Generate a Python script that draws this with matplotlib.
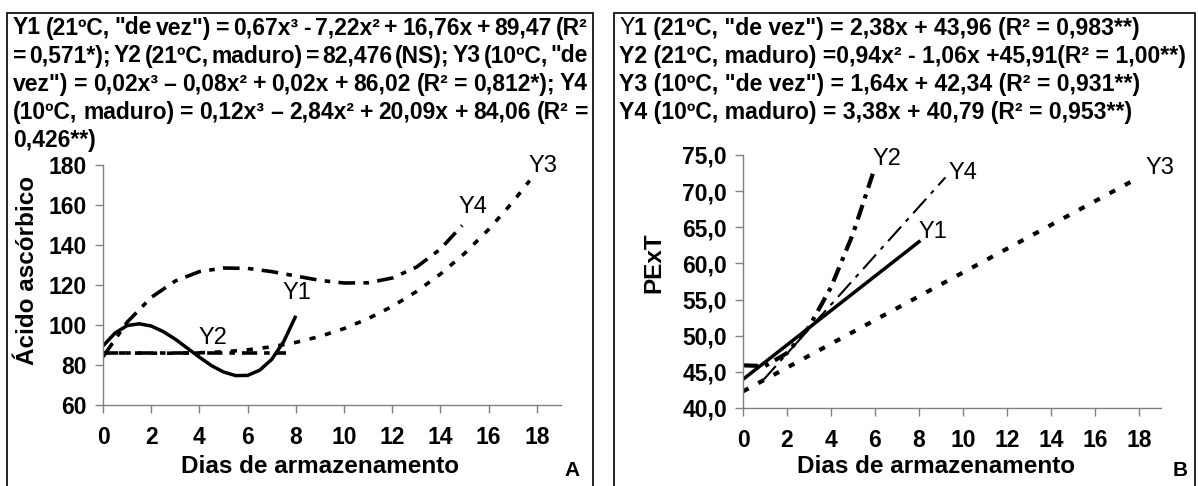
import matplotlib
matplotlib.use('Agg')
import matplotlib.pyplot as plt
from matplotlib.patches import Rectangle
from matplotlib.ticker import FixedLocator

# ---------------- data ----------------
# Panel A - Acido ascorbico
a_y1_x = [0, 0.5, 1, 1.5, 2, 2.5, 3, 3.5, 4, 4.5, 5, 5.5, 6, 6.5, 7, 7.5, 8]
a_y1 = [89.5, 96.0, 99.7, 100.6, 99.5, 96.7, 92.9, 88.4, 83.9, 79.7, 76.5,
        74.7, 74.8, 77.4, 82.8, 91.8, 104.6]
a_y2_x = [0, 7.6]
a_y2 = [86.0, 86.0]
a_y3_x = [0, 1, 2, 3, 4, 5, 6, 7, 8, 9, 10, 11, 12, 13, 14, 15, 16, 17, 17.7]
a_y3 = [86.0, 86.0, 85.9, 85.9, 86.1, 86.6, 87.6, 89.1, 91.3, 94.3, 98.2,
        103.2, 109.3, 116.7, 125.5, 135.8, 147.8, 161.5, 172.2]
a_y4_x = [0, 1, 2, 3, 4, 5, 6, 7, 8, 9, 10, 11, 12, 13, 14, 14.9]
a_y4 = [84.1, 101.4, 113.8, 122.0, 126.7, 128.5, 128.3, 126.7, 124.5, 122.3,
        121.0, 121.1, 123.5, 128.9, 138.0, 149.8]
a_xticks = [0, 2, 4, 6, 8, 10, 12, 14, 16, 18]
a_yticks = [60, 80, 100, 120, 140, 160, 180]
a_ytick_labels = ['60', '80', '100', '120', '140', '160', '180']

# Panel B - PExT
b_y1_x = [0, 8]
b_y1 = [43.96, 63.0]
b_y2_x = [0, 1, 2, 3, 4, 5, 5.9]
b_y2 = [45.9, 45.8, 47.6, 51.2, 56.7, 64.1, 72.4]
b_y3_x = [0, 18]
b_y3 = [42.3, 71.9]
b_y4_x = [0.9, 9.2]
b_y4 = [43.8, 71.9]
b_xticks = [0, 2, 4, 6, 8, 10, 12, 14, 16, 18]
b_yticks = [40, 45, 50, 55, 60, 65, 70, 75]
b_ytick_labels = ['40,0', '45,0', '50,0', '55,0', '60,0', '65,0', '70,0', '75,0']

header_a = [
    'Y1 (21ºC, "de vez") = 0,67x³ - 7,22x² + 16,76x + 89,47 (R²',
    '= 0,571*); Y2 (21ºC, maduro) = 82,476 (NS); Y3 (10ºC, "de',
    'vez") = 0,02x³ – 0,08x² + 0,02x + 86,02 (R² = 0,812*); Y4',
    '(10ºC, maduro) = 0,12x³ – 2,84x² + 20,09x + 84,06 (R² =',
    '0,426**)',
]
header_b = [
    'Y1 (21ºC, "de vez") = 2,38x + 43,96 (R² = 0,983**)',
    'Y2 (21ºC, maduro) =0,94x² - 1,06x +45,91(R² = 1,00**)',
    'Y3 (10ºC, "de vez") = 1,64x + 42,34 (R² = 0,931**)',
    'Y4 (10ºC, maduro) = 3,38x + 40,79 (R² = 0,953**)',
]

# ---------------- figure ----------------
W, H = 1198, 486
plt.rcParams['font.family'] = ['Liberation Sans', 'DejaVu Sans']
plt.rcParams['lines.scale_dashes'] = False
fig = plt.figure(figsize=(W / 100, H / 100), dpi=100)
renderer = fig.canvas.get_renderer()

TICK_FS = 16.5
LABEL_FS = 17.5
CURVE_FS = 17


def fx(px):
    return px / W


def fy(py):
    return 1 - py / H


def text_w(s, fs, weight):
    t = fig.text(0, 0, s, fontsize=fs, fontweight=weight)
    w = t.get_window_extent(renderer).width
    t.remove()
    return w


# frames
for (x0, x1) in [(7, 593), (614, 1195)]:
    fig.patches.append(Rectangle((fx(x0), fy(492)), (x1 - x0) / W, (492 - 13) / H,
                                 transform=fig.transFigure, fill=False,
                                 ec='black', lw=1.2))

# header text
line_y = [28, 56, 84, 112, 141]
fs_b = 12 * 565 / max(text_w(s, 12, 'bold') for s in header_b)
for i, s in enumerate(header_b):
    if i == 0:
        fig.text(fx(619), fy(line_y[i]), 'Y', fontsize=fs_b, fontweight='normal',
                 va='center', ha='left')
        wy = text_w('Y', fs_b, 'normal')
        fig.text(fx(619 + wy), fy(line_y[i]), s[1:], fontsize=fs_b, fontweight='bold',
                 va='center', ha='left')
    else:
        fig.text(fx(619), fy(line_y[i]), s, fontsize=fs_b, fontweight='bold',
                 va='center', ha='left')

# left header: justified between 13 and 588, tight word gaps allowed
xl, xr = 13, 588
MIN_GAP = 3.0
fs_candidates = [fs_b]
for s in header_a[:4]:
    words = s.split(' ')
    sw = sum(text_w(w, 12, 'bold') for w in words)
    fs_candidates.append(12 * (xr - xl - MIN_GAP * (len(words) - 1)) / sw)
fs_a = min(fs_candidates)
for i, s in enumerate(header_a):
    if i == len(header_a) - 1:
        fig.text(fx(xl), fy(line_y[i]), s, fontsize=fs_a, fontweight='bold',
                 va='center', ha='left')
        continue
    words = s.split(' ')
    ws = [text_w(w, fs_a, 'bold') for w in words]
    gap = (xr - xl - sum(ws)) / (len(words) - 1)
    x = xl
    for w, wd in zip(words, ws):
        fig.text(fx(x), fy(line_y[i]), w, fontsize=fs_a, fontweight='bold',
                 va='center', ha='left')
        x += wd + gap

# axes
axA = fig.add_axes([fx(103), fy(405), (561 - 103) / W, (405 - 165) / H])
axB = fig.add_axes([fx(743), fy(408), (1161 - 743) / W, (408 - 155) / H])

for ax in (axA, axB):
    for sp in ('top', 'right'):
        ax.spines[sp].set_visible(False)
    for sp in ('left', 'bottom'):
        ax.spines[sp].set_color('#808080')
        ax.spines[sp].set_linewidth(1.0)
    ax.tick_params(direction='out', length=5.5, width=1.0, color='#808080',
                   labelsize=TICK_FS, labelcolor='black')
    ax.tick_params(axis='x', pad=9.5)
    ax.set_xlim(0, 19)
    ax.patch.set_visible(False)

# Panel A
axA.plot(a_y1_x, a_y1, color='black', lw=2.5, solid_capstyle='butt')
axA.plot(a_y2_x, a_y2, color='black', lw=2.6, dashes=(11, 5, 4, 5))
axA.plot(a_y3_x, a_y3, color='black', lw=2.6, dashes=(4.5, 7))
axA.plot(a_y4_x, a_y4, color='black', lw=2.6, dashes=(12, 6, 4, 6))
axA.set_ylim(60, 180)
axA.xaxis.set_major_locator(FixedLocator(a_xticks))
axA.set_xticklabels([str(v) for v in a_xticks], fontweight='bold', fontsize=TICK_FS)
axA.yaxis.set_major_locator(FixedLocator(a_yticks))
axA.set_yticklabels(a_ytick_labels, fontweight='bold', fontsize=TICK_FS)
axA.tick_params(axis='y', pad=6)
lab_kw = dict(fontsize=CURVE_FS, ha='center', va='center', clip_on=False)
axA.text(8.05, 116, 'Y1', **lab_kw)
axA.text(4.57, 93.5, 'Y2', **lab_kw)
axA.text(18.26, 179.5, 'Y3', **lab_kw)
axA.text(15.35, 159, 'Y4', **lab_kw)

# Panel B
axB.plot(b_y1_x, b_y1, color='black', lw=2.5)
axB.plot(b_y2_x, b_y2, color='black', lw=3.0, dashes=(11, 5, 3, 5))
axB.plot(b_y3_x, b_y3, color='black', lw=3.0, dashes=(4.5, 8))
axB.plot(b_y4_x, b_y4, color='black', lw=1.5, dashes=(14, 5, 3, 5))
axB.set_ylim(40, 75)
axB.xaxis.set_major_locator(FixedLocator(b_xticks))
axB.set_xticklabels([str(v) for v in b_xticks], fontweight='bold', fontsize=TICK_FS)
axB.yaxis.set_major_locator(FixedLocator(b_yticks))
axB.set_yticklabels(b_ytick_labels, fontweight='bold', fontsize=TICK_FS)
axB.tick_params(axis='y', pad=6)
axB.text(6.53, 74.5, 'Y2', **lab_kw)
axB.text(10.0, 72.5, 'Y4', **lab_kw)
axB.text(8.65, 64.4, 'Y1', **lab_kw)
axB.text(18.95, 73.2, 'Y3', **lab_kw)

# axis titles
fig.text(fx(28), fy(270), 'Ácido ascórbico', rotation=90, fontsize=LABEL_FS,
         fontweight='bold', ha='center', va='center')
fig.text(fx(654), fy(263), 'PExT', rotation=90, fontsize=LABEL_FS,
         fontweight='bold', ha='center', va='center')
fig.text(fx(320), fy(466), 'Dias de armazenamento', fontsize=LABEL_FS,
         fontweight='bold', ha='center', va='center')
fig.text(fx(936), fy(466), 'Dias de armazenamento', fontsize=LABEL_FS,
         fontweight='bold', ha='center', va='center')
fig.text(fx(572), fy(470), 'A', fontsize=15, fontweight='bold', ha='center', va='center')
fig.text(fx(1180), fy(470), 'B', fontsize=15, fontweight='bold', ha='center', va='center')

fig.savefig('out.png', dpi=100)
